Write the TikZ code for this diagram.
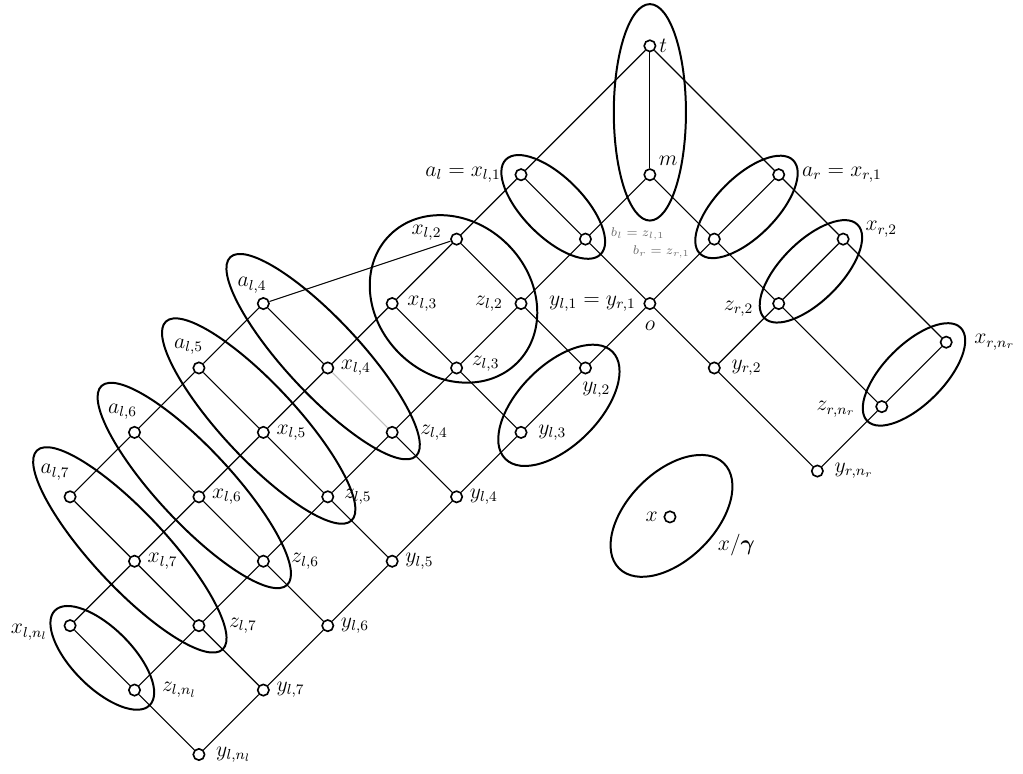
\documentclass[tikz,border=0pt]{standalone}
\usepackage{bm}
\usepackage{tikz}
\definecolor{EdgeGray}{RGB}{190,190,190}
\definecolor{TagGray}{RGB}{110,110,110}
\tikzset{
  vtx/.style={circle, draw, fill=white, inner sep=0pt, minimum size=0.22cm, line width=0.9pt},
  edge/.style={line width=0.6pt},
  grp/.style={line width=1.1pt},
  every label/.style={inner sep=1.5pt, font=\large},
  tag/.style={text=TagGray, font=\scriptsize},
}

\begin{document}
\begin{tikzpicture}[x={(-1.25cm,-1.25cm)}, y={(1.25cm,-1.25cm)}]
\useasboundingbox (-12.61cm,-14.12cm) rectangle (7.24cm,0.89cm);

\node[vtx, label={right:$t$}] (t) at (0,0) {};
\node[vtx, label={[label distance=1pt]above right:$m$}] (m) at (1,1) {};

\node[vtx, label={[label distance=0.21cm]left:$a_l = x_{l,1}$}] (xl1) at (2,0) {};
\node[vtx, label={[label distance=0.11cm, yshift=0.13cm]left:$x_{l,2}$}] (xl2) at (3,0) {};
\node[vtx, label={[label distance=0.11cm]right:$x_{l,3}$}] (xl3) at (4,0) {};
\node[vtx, label={[label distance=0.07cm]right:$x_{l,4}$}] (xl4) at (5,0) {};
\node[vtx, label={[label distance=0.07cm]right:$x_{l,5}$}] (xl5) at (6,0) {};
\node[vtx, label={[label distance=0.07cm]right:$x_{l,6}$}] (xl6) at (7,0) {};
\node[vtx, label={[label distance=0.07cm]right:$x_{l,7}$}] (xl7) at (8,0) {};
\node[vtx, label={[label distance=0.25cm, yshift=-0.13cm]left:$x_{l,n_l}$}] (xln) at (9,0) {};

\node[vtx, label={[label distance=0.31cm, yshift=0.1cm, tag]right:$b_l = z_{l,1}$}] (zl1) at (2,1) {};
\node[vtx, label={[label distance=0.17cm]left:$z_{l,2}$}] (zl2) at (3,1) {};
\node[vtx, label={[label distance=0.11cm, yshift=0.08cm]right:$z_{l,3}$}] (zl3) at (4,1) {};
\node[vtx, label={[label distance=0.36cm]right:$z_{l,4}$}] (zl4) at (5,1) {};
\node[vtx, label={[label distance=0.13cm]right:$z_{l,5}$}] (zl5) at (6,1) {};
\node[vtx, label={[label distance=0.36cm]right:$z_{l,6}$}] (zl6) at (7,1) {};
\node[vtx, label={[label distance=0.40cm]right:$z_{l,7}$}] (zl7) at (8,1) {};
\node[vtx, label={[label distance=0.35cm]right:$z_{l,n_l}$}] (zln) at (9,1) {};

\node[vtx, label={[label distance=0.09cm]left:$y_{l,1} = y_{r,1}$},
  label={[label distance=0.16cm]below:$o$}] (o) at (2,2) {};
\node[vtx, label={[label distance=0.09cm, xshift=0.21cm]below:$y_{l,2}$}] (yl2) at (3,2) {};
\node[vtx, label={[label distance=0.15cm]right:$y_{l,3}$}] (yl3) at (4,2) {};
\node[vtx, label={[label distance=0.07cm]right:$y_{l,4}$}] (yl4) at (5,2) {};
\node[vtx, label={[label distance=0.07cm]right:$y_{l,5}$}] (yl5) at (6,2) {};
\node[vtx, label={[label distance=0.07cm]right:$y_{l,6}$}] (yl6) at (7,2) {};
\node[vtx, label={[label distance=0.07cm]right:$y_{l,7}$}] (yl7) at (8,2) {};
\node[vtx, label={[label distance=0.15cm]right:$y_{l,n_l}$}] (yln) at (9,2) {};

\node[vtx, label={[label distance=0.02cm, xshift=-0.22cm]above:$a_{l,4}$}] (al4) at (5,-1) {};
\node[vtx, label={[label distance=0.07cm, xshift=-0.20cm]above:$a_{l,5}$}] (al5) at (6,-1) {};
\node[vtx, label={[label distance=0.06cm, xshift=-0.23cm]above:$a_{l,6}$}] (al6) at (7,-1) {};
\node[vtx, label={[label distance=0.14cm, xshift=-0.29cm]above:$a_{l,7}$}] (al7) at (8,-1) {};

\node[vtx, label={[label distance=0.27cm]right:$a_r = x_{r,1}$}] (xr1) at (0,2) {};
\node[vtx, label={[label distance=0.25cm, yshift=0.19cm]right:$x_{r,2}$}] (xr2) at (0,3) {};
\node[vtx, label={[label distance=0.36cm]right:$x_{r,n_r}$}] (xrn) at (0,4.6) {};
\node[vtx, label={[label distance=0.29cm, yshift=-0.25cm, tag]left:$b_r = z_{r,1}$}] (zr1) at (1,2) {};
\node[vtx, label={[label distance=0.31cm, yshift=-0.1cm]left:$z_{r,2}$}] (zr2) at (1,3) {};
\node[vtx, label={[label distance=0.33cm, yshift=-0.05cm]left:$z_{r,n_r}$}] (zrn) at (1,4.6) {};
\node[vtx, label={[label distance=0.15cm]right:$y_{r,2}$}] (yr2) at (2,3) {};
\node[vtx, label={[label distance=0.15cm]right:$y_{r,n_r}$}] (yrn) at (2,4.6) {};

\node[vtx, label={[label distance=0.05cm]left:$x$}] (x) at (0.39cm,-9.14cm) {};
\node[font=\large] (xg) at (1.68cm,-9.68cm) {$x/\bm{\gamma}$};

\draw[edge] (t) -- (m);
\draw[edge] (t) -- (xl1) -- (xl2) -- (xl3) -- (xl4) -- (xl5) -- (xl6) -- (xl7) -- (xln);
\draw[edge] (m) -- (zl1) -- (zl2) -- (zl3) -- (zl4) -- (zl5) -- (zl6) -- (zl7) -- (zln);
\draw[edge] (o) -- (yl2) -- (yl3) -- (yl4) -- (yl5) -- (yl6) -- (yl7) -- (yln);
\draw[edge] (xl2) -- (al4) -- (al5) -- (al6) -- (al7);
\draw[edge] (al4) -- (xl4);
\draw[edge] (al5) -- (xl5);
\draw[edge] (al6) -- (xl6);
\draw[edge] (al7) -- (xl7);
\draw[edge] (xl1) -- (zl1) -- (o);
\draw[edge] (xl2) -- (zl2) -- (yl2);
\draw[edge] (xl3) -- (zl3) -- (yl3);
\draw[edge, EdgeGray] (xl4) -- (zl4);
\draw[edge] (zl4) -- (yl4);
\draw[edge] (xl5) -- (zl5) -- (yl5);
\draw[edge] (xl6) -- (zl6) -- (yl6);
\draw[edge] (xl7) -- (zl7) -- (yl7);
\draw[edge] (xln) -- (zln) -- (yln);
\draw[edge] (t) -- (xr1) -- (xr2) -- (xrn);
\draw[edge] (m) -- (zr1) -- (zr2) -- (zrn);
\draw[edge] (o) -- (yr2) -- (yrn);
\draw[edge] (xr1) -- (zr1) -- (o);
\draw[edge] (xr2) -- (zr2) -- (yr2);
\draw[edge] (xrn) -- (zrn) -- (yrn);

\draw[grp] ([yshift=-0.04cm]0.5,0.5) ellipse (0.70cm and 2.10cm);
\draw[grp, rotate around={-45:(2,0.5)}] (2,0.5) ellipse (1.30cm and 0.58cm);
\coordinate (c3) at ([xshift=-0.06cm, yshift=0.09cm]3.5,0.5);
\draw[grp, rotate around={-45:(c3)}] (c3) ellipse (1.75cm and 1.49cm);
\coordinate (c4) at ([xshift=-0.09cm, yshift=0.22cm]xl4);
\draw[grp, rotate around={-47:(c4)}] (c4) ellipse (2.64cm and 0.72cm);
\coordinate (c5) at ([xshift=-0.09cm, yshift=0.22cm]xl5);
\draw[grp, rotate around={-47:(c5)}] (c5) ellipse (2.64cm and 0.72cm);
\coordinate (c6) at ([xshift=-0.09cm, yshift=0.22cm]xl6);
\draw[grp, rotate around={-47:(c6)}] (c6) ellipse (2.64cm and 0.72cm);
\coordinate (c7) at ([xshift=-0.09cm, yshift=0.22cm]xl7);
\draw[grp, rotate around={-47:(c7)}] (c7) ellipse (2.64cm and 0.72cm);
\draw[grp, rotate around={-45:(9,0.5)}] (9,0.5) ellipse (1.30cm and 0.58cm);
\coordinate (c12) at ([xshift=0.11cm, yshift=-0.10cm]3.5,2);
\draw[grp, rotate around={45:(c12)}] (c12) ellipse (1.47cm and 0.78cm);
\draw[grp, rotate around={45:(0.5,2)}] (0.5,2) ellipse (1.28cm and 0.58cm);
\draw[grp, rotate around={45:(0.5,3)}] (0.5,3) ellipse (1.28cm and 0.58cm);
\draw[grp, rotate around={45:(0.5,4.6)}] (0.5,4.6) ellipse (1.28cm and 0.58cm);
\draw[grp, rotate around={45:(0.42cm,-9.12cm)}] (0.42cm,-9.12cm) ellipse (1.44cm and 0.85cm);
\end{tikzpicture}
\end{document}
